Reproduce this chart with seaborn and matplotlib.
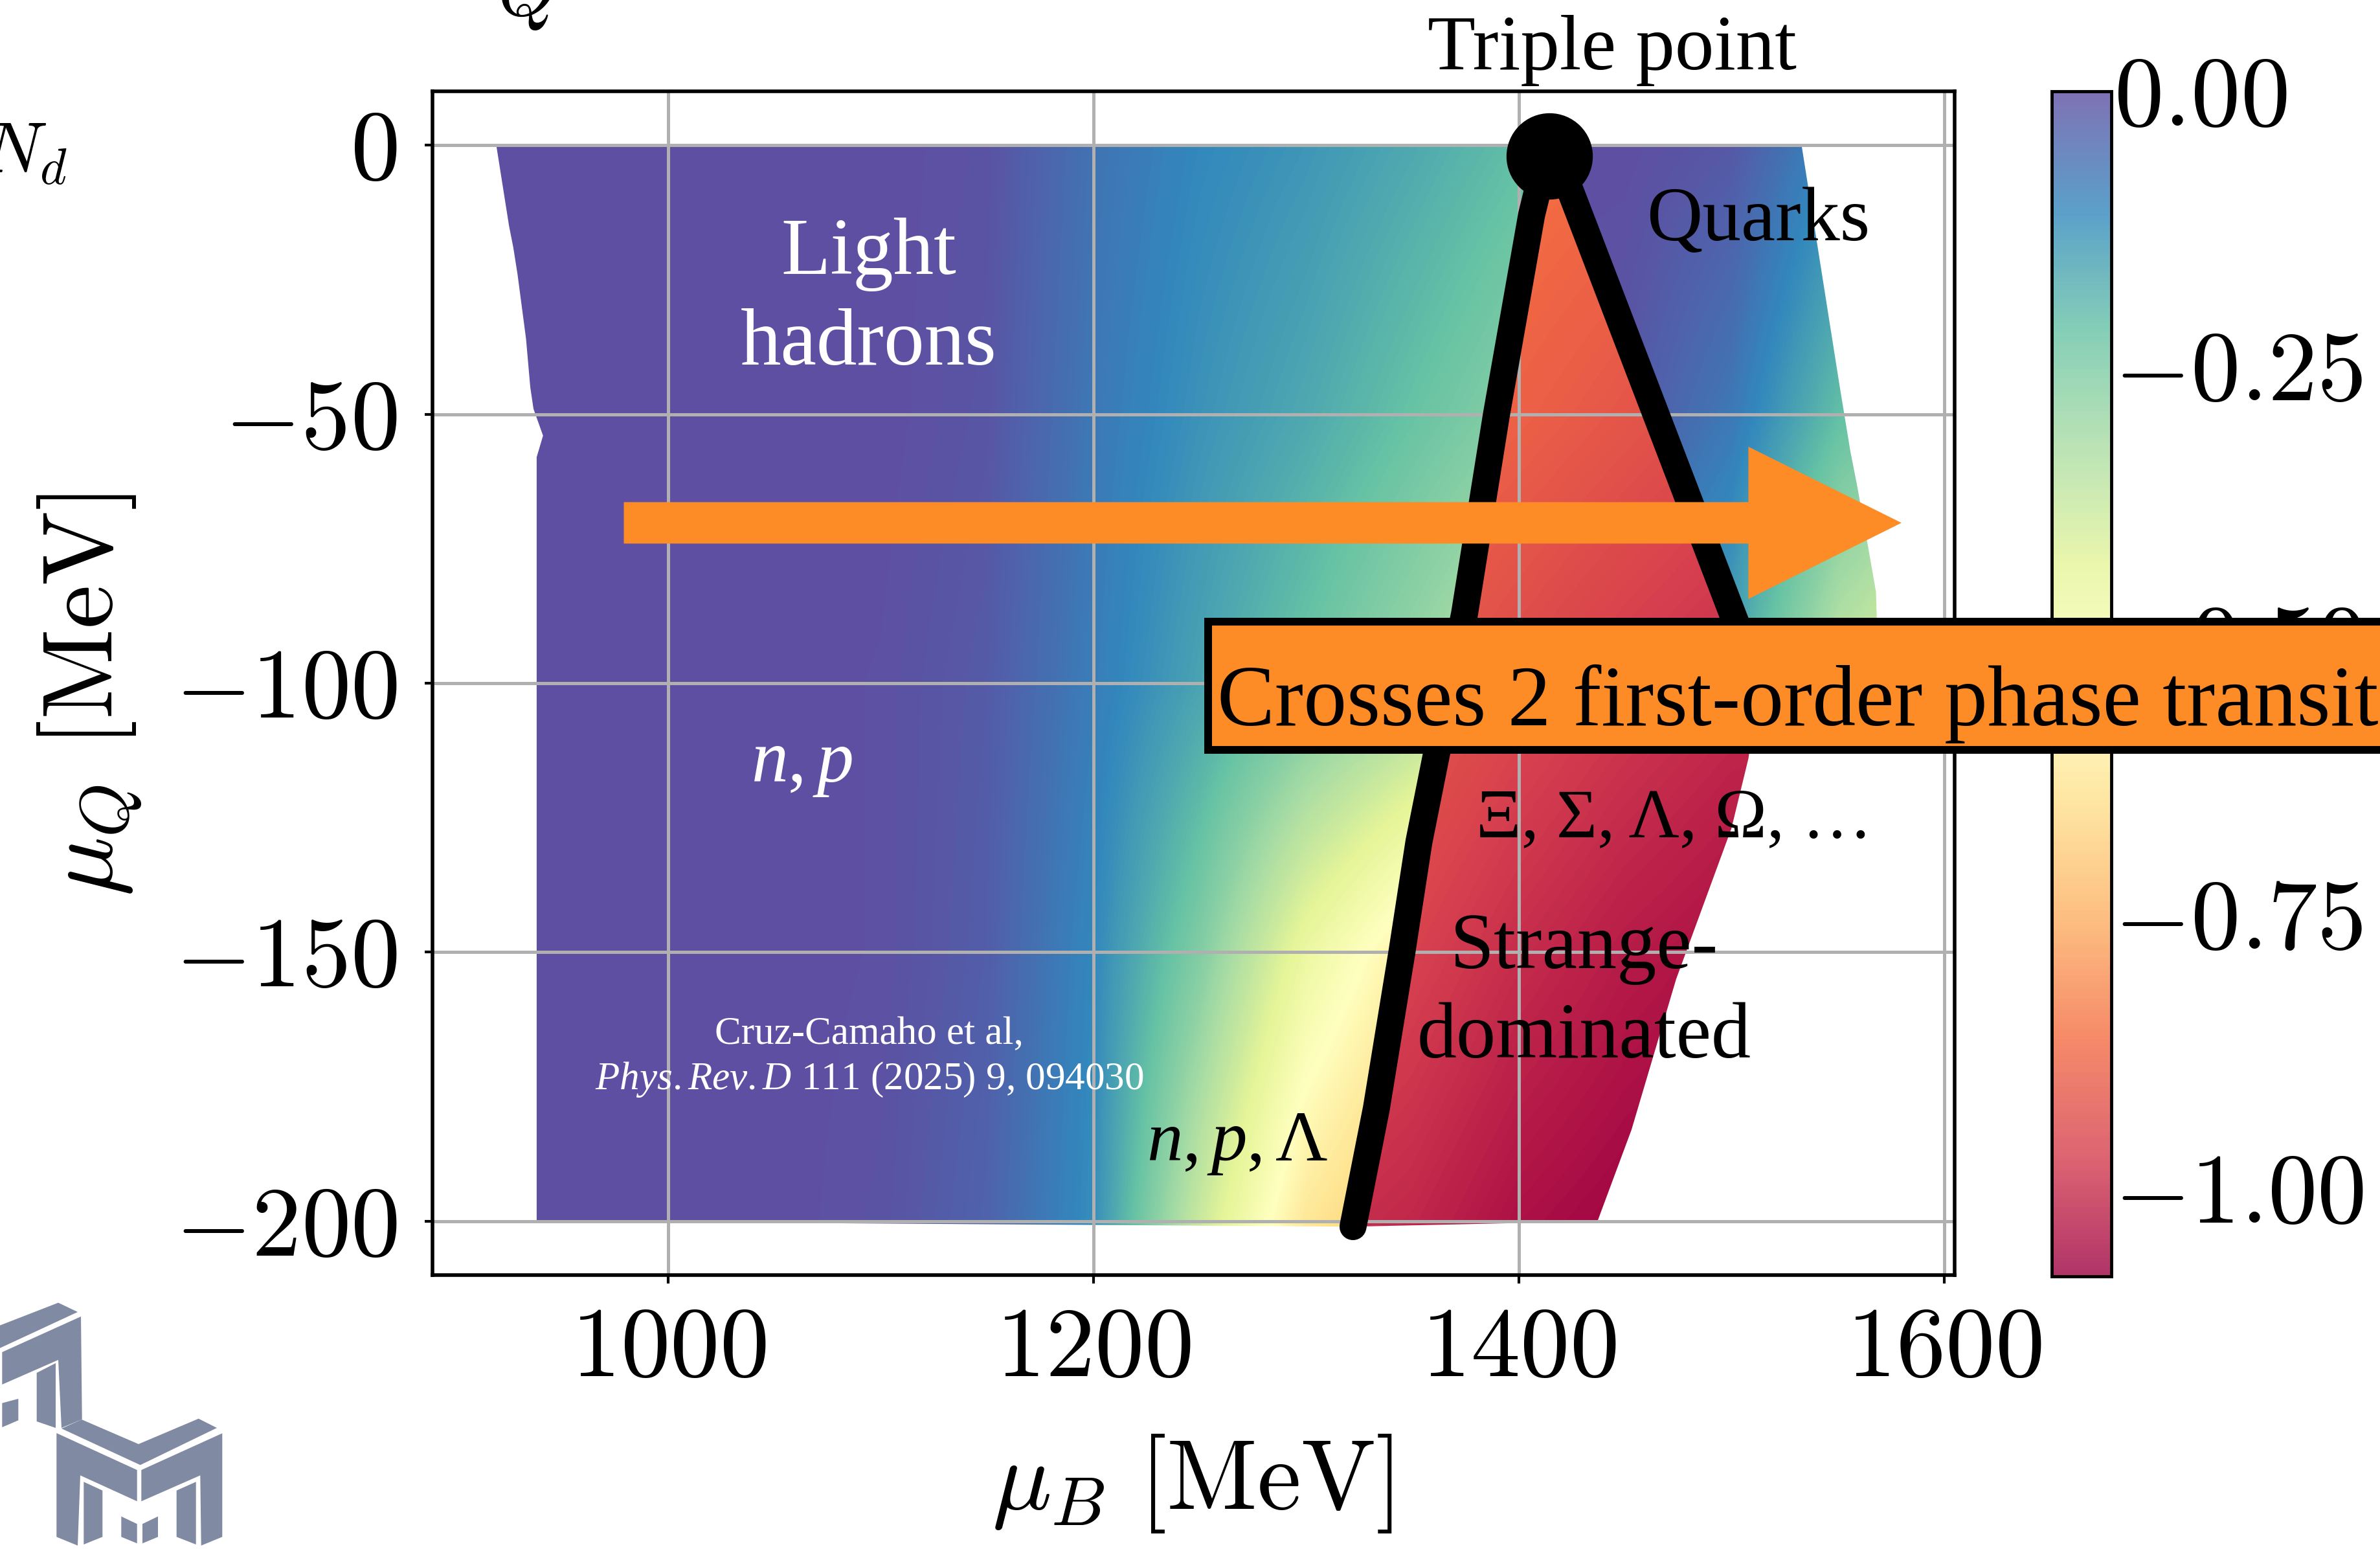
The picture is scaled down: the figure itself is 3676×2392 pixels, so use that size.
import numpy as np
import matplotlib
matplotlib.use("Agg")
import matplotlib.pyplot as plt
from matplotlib.patches import Polygon, Rectangle
from matplotlib.colors import Normalize
from matplotlib.cm import ScalarMappable
import seaborn as sns

# ---------------------------------------------------------------- data
mu_B_ticks = [1000, 1200, 1400, 1600]
mu_Q_ticks = [0, -50, -100, -150, -200]
cbar_ticks = [0.0, -0.25, -0.50, -0.75, -1.00]
cbar_min, cbar_max = -1.08, 0.0

# strangeness field sampled on regular nodes, one table per phase
field_mu_Q = [0, -50, -100, -150, -200]

hadron_mu_B = [900, 950, 1000, 1050, 1100, 1150, 1200, 1250, 1300, 1350, 1400, 1450]
hadron_values = [
    [0, 0, 0, 0, 0.000, -0.010, -0.07, -0.11, -0.135, -0.17, -0.21, -0.24],
    [0, 0, 0, 0, 0.000, -0.015, -0.08, -0.13, -0.170, -0.22, -0.27, -0.30],
    [0, 0, 0, 0, -0.005, -0.025, -0.09, -0.16, -0.230, -0.30, -0.37, -0.42],
    [0, 0, 0, 0, -0.005, -0.030, -0.11, -0.26, -0.460, -0.60, -0.66, -0.70],
    [0, 0, 0, 0, -0.010, -0.040, -0.12, -0.38, -0.620, -0.72, -0.74, -0.76],
]

strange_mu_B = [1300, 1350, 1400, 1450, 1500, 1550]
strange_values = [
    [-0.84, -0.845, -0.855, -0.870, -0.885, -0.90],
    [-0.86, -0.870, -0.890, -0.915, -0.940, -0.95],
    [-0.89, -0.910, -0.945, -0.975, -1.000, -1.01],
    [-0.93, -0.960, -1.000, -1.030, -1.050, -1.06],
    [-0.99, -1.010, -1.050, -1.070, -1.080, -1.08],
]

quark_mu_Q = [0, -50, -100]
quark_mu_B = [1400, 1450, 1500, 1550, 1600]
quark_values = [
    [0.00, 0.00, -0.02, -0.11, -0.16],
    [0.00, -0.02, -0.08, -0.21, -0.28],
    [-0.06, -0.10, -0.17, -0.37, -0.46],
]

# edges of the scanned region
left_edge_mu_Q = [0, -5, -10, -15, -19, -24, -30, -36, -45, -49, -54, -58, -200]
left_edge_mu_B = [919, 921, 923, 925, 927, 929, 931, 933, 935, 936.5, 941, 938, 938]
right_edge_mu_Q = [0, -20, -45, -57, -63, -74, -83, -96, -100, -114, -127, -155, -183, -200]
right_edge_mu_B = [1533, 1541, 1551, 1556, 1559, 1564, 1568, 1569, 1513, 1508, 1500, 1474, 1453, 1437]

# first-order phase boundaries
boundary_left_mu_Q = [0, -13, -50, -87, -129.5, -150, -179, -201]
boundary_left_mu_B = [1414, 1406, 1389.5, 1374.5, 1353, 1345, 1333, 1322]
boundary_right_mu_Q = [0, -100]
boundary_right_mu_B = [1416, 1513]

triple_point_mu_B, triple_point_mu_Q = 1414.5, -2.0

# path through the diagram
path_mu_Q = -70.2
path_mu_B_start, path_mu_B_end = 979, 1580

# ---------------------------------------------------------------- style
sns.set_theme(style="whitegrid")
plt.rcParams["font.family"] = ["Liberation Serif", "DejaVu Sans"]
plt.rcParams["mathtext.fontset"] = "cm"
plt.rcParams["mathtext.rm"] = "Liberation Serif"
plt.rcParams["mathtext.it"] = "Liberation Serif:italic"
plt.rcParams["mathtext.bf"] = "Liberation Serif:bold"

cmap = sns.color_palette("Spectral", as_cmap=True)
norm = Normalize(vmin=cbar_min, vmax=cbar_max)
ORANGE = "#fd8c27"

W, H = 3676, 2392
fig = plt.figure(figsize=(W / 100, H / 100), dpi=100)
fig.patch.set_facecolor("white")
ax = fig.add_axes([668 / W, (H - 1969) / H, (3019 - 668) / W, (1969 - 141) / H])
ax.set_facecolor("white")


def pts(mu_B, mu_Q):
    return np.column_stack([np.asarray(mu_B, float), np.asarray(mu_Q, float)])


split = right_edge_mu_Q.index(-100)
upper_right = pts(right_edge_mu_B[:split], right_edge_mu_Q[:split])
lower_right = pts(right_edge_mu_B[split:], right_edge_mu_Q[split:])
b_left = pts(boundary_left_mu_B, boundary_left_mu_Q)
b_right = pts(boundary_right_mu_B, boundary_right_mu_Q)

hadron_verts = np.vstack([pts(left_edge_mu_B, left_edge_mu_Q), b_left[::-1]])
strange_verts = np.vstack([b_left, lower_right[::-1], b_right[::-1]])
quark_verts = np.vstack([b_right, upper_right[::-1]])


def draw_phase(values, mu_B_nodes, mu_Q_nodes, verts):
    dx = mu_B_nodes[1] - mu_B_nodes[0]
    dy = abs(mu_Q_nodes[1] - mu_Q_nodes[0])
    extent = (mu_B_nodes[0] - dx / 2, mu_B_nodes[-1] + dx / 2,
              mu_Q_nodes[-1] - dy / 2, mu_Q_nodes[0] + dy / 2)
    im = ax.imshow(np.asarray(values, float), cmap=cmap, norm=norm, extent=extent,
                   origin="upper", interpolation="bilinear",
                   interpolation_stage="data", aspect="auto", zorder=0.2)
    im.set_clip_path(Polygon(verts, closed=True, transform=ax.transData))
    return im


draw_phase(hadron_values, hadron_mu_B, field_mu_Q, hadron_verts)
draw_phase(strange_values, strange_mu_B, field_mu_Q, strange_verts)
draw_phase(quark_values, quark_mu_B, quark_mu_Q, quark_verts)

# phase boundaries and triple point
ax.plot(boundary_left_mu_B, boundary_left_mu_Q, color="black", lw=30,
        solid_capstyle="round", solid_joinstyle="round", zorder=3)
ax.plot(boundary_right_mu_B, boundary_right_mu_Q, color="black", lw=30,
        solid_capstyle="round", solid_joinstyle="round", zorder=3)
ax.plot([triple_point_mu_B], [triple_point_mu_Q], "o", ms=95, color="black",
        zorder=6, clip_on=False)

# path arrow
ax.arrow(path_mu_B_start, path_mu_Q, path_mu_B_end - path_mu_B_start, 0,
         width=7.7, head_width=28.3, head_length=72, length_includes_head=True,
         color=ORANGE, lw=0, zorder=4)

# axes
ax.set_xlim(889, 1605)
ax.set_ylim(-210, 10)
ax.set_xticks(mu_B_ticks)
ax.set_xticklabels([f"${t}$" for t in mu_B_ticks])
ax.set_yticks(mu_Q_ticks)
ax.set_yticklabels([f"${t}$" for t in mu_Q_ticks])
ax.set_axisbelow(True)
ax.grid(True, color="#b0b0b0", lw=3.6)
for s in ax.spines.values():
    s.set_visible(True)
    s.set_color("black")
    s.set_linewidth(4)
ax.tick_params(bottom=True, left=True, direction="out", length=9, width=3,
               color="black", labelsize=110, labelcolor="black")
ax.tick_params(axis="x", pad=27)
ax.tick_params(axis="y", pad=30)

ax.set_xlabel(r"$\mu_B\ [\mathrm{MeV}]$", fontsize=110, color="black")
ax.set_ylabel(r"$\mu_Q\ [\mathrm{MeV}]$", fontsize=110, color="black")
ax.xaxis.label.set_va("center")
ax.yaxis.label.set_va("center")
ax.xaxis.set_label_coords(0.499, -0.176)
ax.yaxis.set_label_coords(-0.2254, 0.49)

# region labels
ax.text(1444, 14.1, "Triple point", fontsize=87, ha="center", va="baseline",
        color="black", clip_on=False, zorder=7)
ax.text(1512.6, -17.7, "Quarks", fontsize=86, ha="center", va="baseline",
        color="black", zorder=7)
ax.text(1094.2, -23.9, "Light", fontsize=90, ha="center", va="baseline",
        color="white", zorder=7)
ax.text(1094.2, -40.8, "hadrons", fontsize=90, ha="center", va="baseline",
        color="white", zorder=7)
ax.text(1062.8, -118.3, r"$n, p$", fontsize=82, ha="center", va="baseline",
        color="white", math_fontfamily="custom", zorder=7)
ax.text(1267.5, -188.7, r"$n, p, \Lambda$", fontsize=80, ha="center",
        va="baseline", color="black", math_fontfamily="custom", zorder=7)
ax.text(1473, -128.5, "Ξ, Σ, Λ, Ω, …", fontsize=78, ha="center", va="baseline",
        color="black", zorder=7)
ax.text(1430.7, -153, "Strange-", fontsize=88, ha="center", va="baseline",
        color="black", zorder=7)
ax.text(1430.7, -169.6, "dominated", fontsize=88, ha="center", va="baseline",
        color="black", zorder=7)
ax.text(1094.5, -167, "Cruz-Camaho et al,", fontsize=44, ha="center",
        va="baseline", color="white", zorder=7)
ax.text(1094.5, -175.5, r"$\mathit{Phys.Rev.D}$ 111 (2025) 9, 094030",
        fontsize=44, ha="center", va="baseline", color="white",
        math_fontfamily="custom", zorder=7)

# colour bar
cax = fig.add_axes([3169 / W, (H - 1971) / H, (3261 - 3169) / W, (1971 - 141) / H])
cb = fig.colorbar(ScalarMappable(norm=norm, cmap=cmap), cax=cax)
cb.solids.set_alpha(0.8)
cb.set_ticks(cbar_ticks)
cb.set_ticklabels([f"${t:.2f}$" for t in cbar_ticks])
cb.outline.set_edgecolor("black")
cb.outline.set_linewidth(3.5)
cax.grid(False)
cax.tick_params(right=True, length=0, pad=3, labelsize=110, labelcolor="black")

# overlay in pixel coordinates for the banner, edge text and logo
deco = fig.add_axes([0, 0, 1, 1], zorder=10)
deco.set_xlim(0, W)
deco.set_ylim(H, 0)
deco.axis("off")
deco.patch.set_visible(False)

deco.add_patch(Rectangle((1866, 960), 2000, 198, facecolor=ORANGE,
                         edgecolor="black", lw=8.6, clip_on=False))
deco.text(1880, 1120, "Crosses 2 first-order phase transitions", fontsize=96,
          ha="left", va="baseline", color="black")

deco.text(104, 267, r"$N_d$", fontsize=80, ha="right", va="baseline", color="black")
deco.text(813, 24, r"$Q$", fontsize=86, ha="center", va="baseline", color="black")

logo_color = "#818aa3"
logo_shapes = [
    [(0, 2046.7), (90, 2011.7), (120, 2026), (0, 2081.7)],
    [(3.3, 2088), (125, 2033), (126.7, 2191.7), (95, 2205), (90, 2100), (3.3, 2138)],
    [(56.7, 2120), (86, 2105), (86, 2205), (56.7, 2195)],
    [(3.3, 2166.7), (28.3, 2160), (28.3, 2193.3), (3.3, 2204)],
    [(95, 2206), (126, 2192), (214, 2230), (306.7, 2190.7), (335, 2205), (216.7, 2262.3)],
    [(87.3, 2213), (211.7, 2270), (211.7, 2318.3), (124, 2278.3), (120, 2386.7), (87.3, 2373.3)],
    [(129.3, 2288.3), (158.3, 2301.7), (158.3, 2373.3), (129.3, 2385)],
    [(218.3, 2270), (343.3, 2213.3), (343.3, 2373.3), (310.7, 2386.7), (309.3, 2278.3), (218.3, 2318.3)],
    [(272.7, 2301.7), (302.7, 2288.3), (302.7, 2385), (272.7, 2373.3)],
    [(187.3, 2341.7), (211.7, 2353.3), (211.7, 2383.3), (187.3, 2373.3)],
    [(220, 2353.3), (244, 2341.7), (244, 2373.3), (220, 2383.3)],
]
for shape in logo_shapes:
    deco.add_patch(Polygon(shape, closed=True, facecolor=logo_color,
                           edgecolor="none"))

fig.savefig("out.png", dpi=100, facecolor="white")
